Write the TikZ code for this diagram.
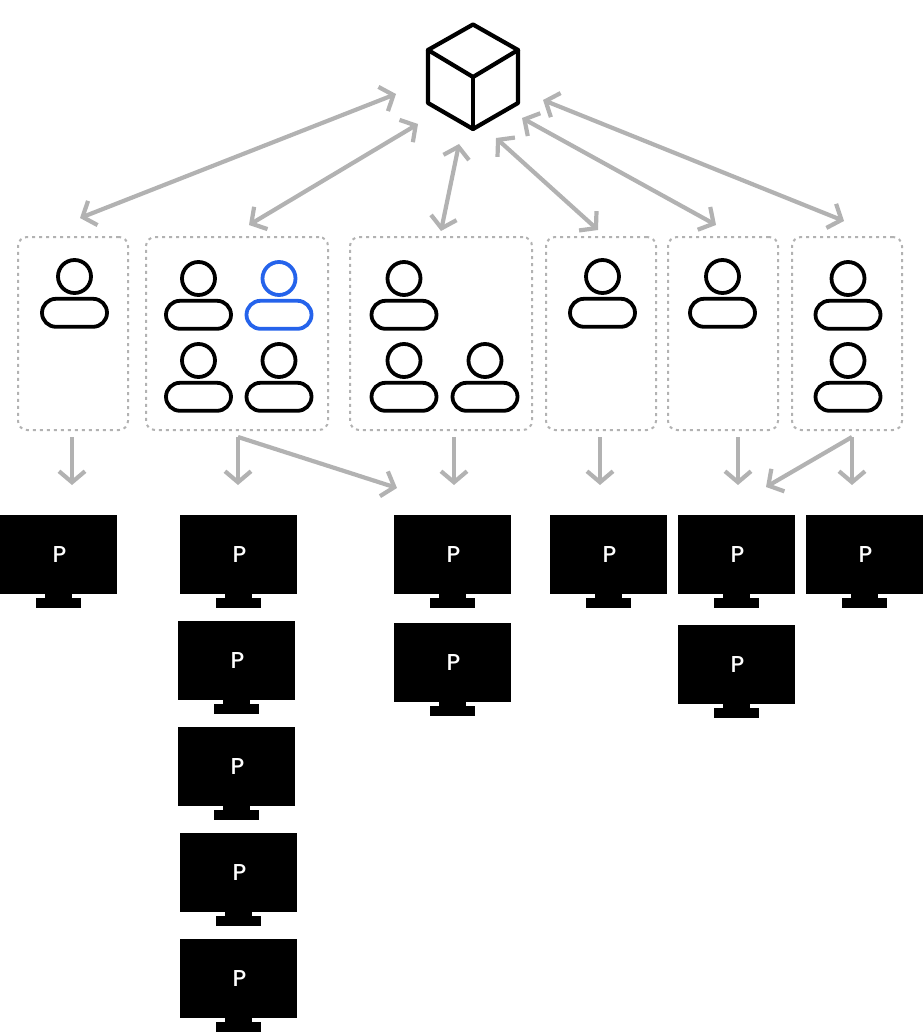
\documentclass[tikz,border=0pt]{standalone}
\usepackage{fontspec}
\usepackage{tikz}
\usetikzlibrary{arrows.meta, positioning}
\newfontfamily\pfont[UprightFont=* Medium]{Poppins}
\definecolor{linkgray}{HTML}{B2B2B2}
\definecolor{userblue}{HTML}{2563EB}

\newcommand{\person}[4][black]{%
  \node[head, draw=#1] (#2h) at (#3,#4) {};
  \node[body, draw=#1, below=2pt of #2h] (#2b) {};
}
\newcommand{\monitor}[3]{%
  \node[screen] (#1) at (#2+58.25,#3+39.5) {\hspace{2.5pt}\raisebox{-3.5pt}{P}};
  \node[neck, below=-1pt of #1] (#1n) {};
  \node[foot, below=-1pt of #1n] (#1f) {};
}

\begin{document}
\begin{tikzpicture}[
  x=1pt, y=-1pt,
  head/.style={circle, line width=3.8pt, inner sep=0pt, minimum size=33pt},
  body/.style={rectangle, rounded corners=14pt, line width=3.8pt, inner sep=0pt, minimum width=65pt, minimum height=28pt},
  group/.style={rectangle, draw=linkgray, dash pattern=on 3pt off 4pt, line width=2pt, rounded corners=9pt, inner sep=0pt, minimum height=193pt},
  screen/.style={rectangle, fill=black, text=white, inner sep=0pt, minimum width=116.5pt, minimum height=79pt, font=\pfont\fontsize{23}{26}\selectfont},
  neck/.style={rectangle, fill=black, inner sep=0pt, minimum width=27pt, minimum height=5pt},
  foot/.style={rectangle, fill=black, inner sep=0pt, minimum width=45pt, minimum height=10pt},
  link/.style={draw=linkgray, line width=4.2pt, {Straight Barb[length=11pt, width=26pt, line width=4.2pt]}-{Straight Barb[length=11pt, width=26pt, line width=4.2pt]}},
  flow/.style={draw=linkgray, line width=4.2pt, -{Straight Barb[length=11pt, width=26pt, line width=4.2pt]}},
  edge/.style={line width=4.2pt, line join=round, line cap=round}
  ]
  \useasboundingbox (0,0) rectangle (923,1032);

  % central cube
  \coordinate (top) at (473,24.5);
  \coordinate (upl) at (428,50);
  \coordinate (upr) at (518,50);
  \coordinate (mid) at (473,77);
  \coordinate (lol) at (428,103);
  \coordinate (lor) at (518,103);
  \coordinate (bot) at (473,129);
  \draw[edge] (top) -- (upr) -- (lor) -- (bot) -- (lol) -- (upl) -- cycle;
  \draw[edge] (upl) -- (mid) -- (upr);
  \draw[edge] (mid) -- (bot);

  % groups
  \foreach \name/\x/\w in {g1/73/110, g2/237/182, g3/441/182, g4/601/110, g5/723/110, g6/847/110}
    \node[group, minimum width=\w pt] (\name) at (\x,333.5) {};

  % people
  \person{p1}{74.5}{276.5}
  \person{p2}{198.5}{278.5}
  \person[userblue]{p3}{279}{278.5}
  \person{p4}{198.5}{360.5}
  \person{p5}{279}{360.5}
  \person{p6}{404}{278.5}
  \person{p7}{404}{360.5}
  \person{p8}{485}{360.5}
  \person{p9}{602.5}{276.5}
  \person{p10}{722.5}{276.5}
  \person{p11}{848}{278.5}
  \person{p12}{848}{360.5}

  % monitors
  \monitor{m1}{0}{515}
  \monitor{m2}{180}{515}
  \monitor{m3}{178}{621}
  \monitor{m4}{178}{727}
  \monitor{m5}{180}{833}
  \monitor{m6}{180}{939}
  \monitor{m7}{394}{515}
  \monitor{m8}{394}{623}
  \monitor{m9}{550}{515}
  \monitor{m10}{678}{515}
  \monitor{m11}{678}{625}
  \monitor{m12}{806}{515}

  % arrow ends
  \foreach \name/\x/\y in {a1/396/94, b1/80/218, a2/418/124, b2/249/225, a3/459/144, b3/441/231,
      a4/496/138, b4/598/230, a5/522/118, b5/716/225, a6/543/100, b6/844/221,
      s1/72/437, e1/72/485, s2/238/437, e2/238/485, e3/397/488, s3/454/437, e4/454/485,
      s4/600/437, e5/600/485, s5/738/437, e6/738/485, s6/852/437, e7/852/485, e8/766/487}
    \coordinate (\name) at (\x,\y);

  \draw[link] (a1) -- (b1);
  \draw[link] (a2) -- (b2);
  \draw[link] (a3) -- (b3);
  \draw[link] (a4) -- (b4);
  \draw[link] (a5) -- (b5);
  \draw[link] (a6) -- (b6);

  \draw[flow] (s1) -- (e1);
  \draw[flow] (s2) -- (e2);
  \draw[flow] (s2) -- (e3);
  \draw[flow] (s3) -- (e4);
  \draw[flow] (s4) -- (e5);
  \draw[flow] (s5) -- (e6);
  \draw[flow] (s6) -- (e7);
  \draw[flow] (s6) -- (e8);
\end{tikzpicture}
\end{document}
